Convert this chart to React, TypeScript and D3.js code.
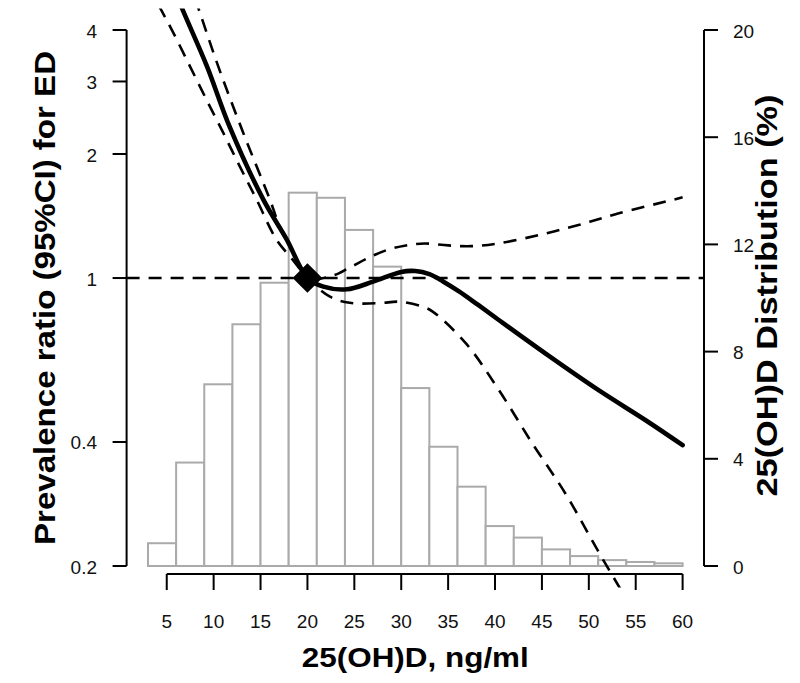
import React from "react";
import * as d3 from "d3";

// ---- data ----
const histBinStarts = [3, 6, 9, 12, 15, 18, 21, 24, 27, 30, 33, 36, 39, 42, 45, 48, 51, 54, 57];
const histBinWidth = 3;
const histPercent = [0.85, 3.86, 6.78, 9.02, 10.57, 13.93, 13.74, 12.54, 11.17, 6.64, 4.45, 2.96, 1.49, 1.06, 0.62, 0.37, 0.22, 0.15, 0.1];

const mainX = [4, 6.6, 9.3, 11.7, 15.3, 17.8, 20, 21.7, 24.2, 27, 30, 31.5, 33, 34.5, 36.2, 38, 40.4, 45.7, 51, 56.3, 60];
const mainPR = [6.3, 4.53, 3.26, 2.33, 1.55, 1.24, 1.0, 0.953, 0.939, 0.98, 1.035, 1.04, 1.022, 0.98, 0.927, 0.867, 0.791, 0.648, 0.535, 0.448, 0.393];

const upperX = [5, 6.5, 8.37, 10.5, 13.16, 16, 17.06, 18.5, 20, 22.5, 24.5, 26.5, 28.5, 30.5, 32.5, 35, 37.5, 40.4, 44.7, 48.9, 53.2, 58.85, 60];
const upperPR = [7.6, 6.0, 4.52, 3.26, 2.25, 1.55, 1.33, 1.15, 1.0, 1.01, 1.06, 1.12, 1.17, 1.2, 1.213, 1.2, 1.195, 1.214, 1.272, 1.345, 1.436, 1.546, 1.57];

const lowerX = [3, 4.3, 5.72, 7.49, 9.27, 11.03, 12.8, 14.58, 16.7, 18.4, 20, 22.4, 24.5, 27.7, 29.8, 32.3, 33.35, 36.9, 40.4, 43.97, 47.5, 51.06, 53.3, 56, 60];
const lowerPR = [5.1, 4.52, 3.93, 3.26, 2.7, 2.25, 1.864, 1.55, 1.24, 1.11, 1.0, 0.901, 0.871, 0.869, 0.876, 0.852, 0.829, 0.694, 0.535, 0.397, 0.3, 0.216, 0.177, 0.14, 0.1];

const refX = 20;
const refPR = 1;

const leftTicks = [0.2, 0.4, 1, 2, 3, 4];
const leftTickLabels = ["0.2", "0.4", "1", "2", "3", "4"];
const rightTicks = [0, 4, 8, 12, 16, 20];
const bottomTicks = [5, 10, 15, 20, 25, 30, 35, 40, 45, 50, 55, 60];

const xTitle = "25(OH)D, ng/ml";
const yLeftTitle = "Prevalence ratio (95%CI) for ED";
const yRightTitle = "25(OH)D Distribution (%)";

// ---- layout ----
const W = 800;
const H = 683;

export default function App() {
  const x = d3.scaleLinear().domain([0.72, 62.28]).range([126.6, 704]);
  const y = d3.scaleLog().domain([0.2, 4]).range([566, 30]);
  const yR = d3.scaleLinear().domain([0, 20]).range([566, 30]);

  const [px0, px1] = x.range();
  const ext = 0.04 * (y(0.2) - y(4));
  const clipTop = y(4) - ext;
  const clipBot = y(0.2) + ext;

  const line = d3
    .line<[number, number]>()
    .x((d) => x(d[0]))
    .y((d) => y(d[1]))
    .curve(d3.curveCatmullRom.alpha(0.5));

  const zip = (a: number[], b: number[]) => a.map((v, i) => [v, b[i]] as [number, number]);

  const diamond = d3.symbol().type(d3.symbolSquare).size(440)();

  const font = "'Liberation Sans', Arial, sans-serif";
  const axisY = 574;

  return (
    <div style={{ position: "fixed", left: 0, top: 0 }}>
      <svg width={W} height={H} style={{ display: "block", background: "#fff" }}>
        <defs>
          <clipPath id="plotClip">
            <rect x={px0} y={clipTop} width={px1 - px0} height={clipBot - clipTop} />
          </clipPath>
        </defs>

        {/* histogram */}
        <g>
          {histBinStarts.map((s, i) => (
            <rect
              key={i}
              x={x(s)}
              y={yR(histPercent[i])}
              width={x(s + histBinWidth) - x(s)}
              height={yR(0) - yR(histPercent[i])}
              fill="#fff"
              stroke="#aaaaaa"
              strokeWidth={2}
            />
          ))}
        </g>

        {/* reference line */}
        <line x1={px0} x2={px1} y1={y(1)} y2={y(1)} stroke="#000" strokeWidth={2.6} strokeDasharray="13,9" />

        {/* curves */}
        <g clipPath="url(#plotClip)" fill="none">
          <path d={line(zip(upperX, upperPR)) || ""} stroke="#000" strokeWidth={2.6} strokeDasharray="13,9" />
          <path d={line(zip(lowerX, lowerPR)) || ""} stroke="#000" strokeWidth={2.6} strokeDasharray="13,9" />
          <path d={line(zip(mainX, mainPR)) || ""} stroke="#000" strokeWidth={4.6} strokeLinejoin="round" strokeLinecap="round" />
        </g>

        {/* reference point */}
        <path d={diamond || ""} transform={`translate(${x(refX)},${y(refPR)}) rotate(45)`} fill="#000" />

        {/* left axis */}
        <g stroke="#000" strokeWidth={2}>
          <line x1={px0} x2={px0} y1={y(4)} y2={y(0.2)} />
          {leftTicks.map((t) => (
            <line key={t} x1={px0 - 14} x2={px0} y1={y(t)} y2={y(t)} />
          ))}
        </g>
        {leftTicks.map((t, i) => (
          <text key={t} x={97} y={y(t) + 1} textAnchor="end" dominantBaseline="central" fontFamily={font} fontSize={19} fill="#111">
            {leftTickLabels[i]}
          </text>
        ))}

        {/* right axis */}
        <g stroke="#000" strokeWidth={2}>
          <line x1={px1} x2={px1} y1={yR(20)} y2={yR(0)} />
          {rightTicks.map((t) => (
            <line key={t} x1={px1} x2={px1 + 14} y1={yR(t)} y2={yR(t)} />
          ))}
        </g>
        {rightTicks.map((t) => (
          <text key={t} x={733} y={yR(t) + 1} textAnchor="start" dominantBaseline="central" fontFamily={font} fontSize={19} fill="#111">
            {t}
          </text>
        ))}

        {/* bottom axis */}
        <g stroke="#000" strokeWidth={2}>
          <line x1={x(5)} x2={x(60)} y1={axisY} y2={axisY} />
          {bottomTicks.map((t) => (
            <line key={t} x1={x(t)} x2={x(t)} y1={axisY} y2={axisY + 16} />
          ))}
        </g>
        {bottomTicks.map((t) => (
          <text key={t} x={x(t)} y={628} textAnchor="middle" fontFamily={font} fontSize={19} fill="#111">
            {t}
          </text>
        ))}

        {/* titles */}
        <text
          x={(px0 + px1) / 2}
          y={667}
          textAnchor="middle"
          fontFamily={font}
          fontWeight="bold"
          fontSize={28}
          textLength={227}
          lengthAdjust="spacingAndGlyphs"
        >
          {xTitle}
        </text>
        <text
          transform={`translate(55,${(y(4) + y(0.2)) / 2}) rotate(-90)`}
          textAnchor="middle"
          fontFamily={font}
          fontWeight="bold"
          fontSize={29}
          textLength={494}
          lengthAdjust="spacingAndGlyphs"
        >
          {yLeftTitle}
        </text>
        <text
          transform={`translate(777,295.5) rotate(-90)`}
          textAnchor="middle"
          fontFamily={font}
          fontWeight="bold"
          fontSize={29}
          textLength={402}
          lengthAdjust="spacingAndGlyphs"
        >
          {yRightTitle}
        </text>
      </svg>
    </div>
  );
}
